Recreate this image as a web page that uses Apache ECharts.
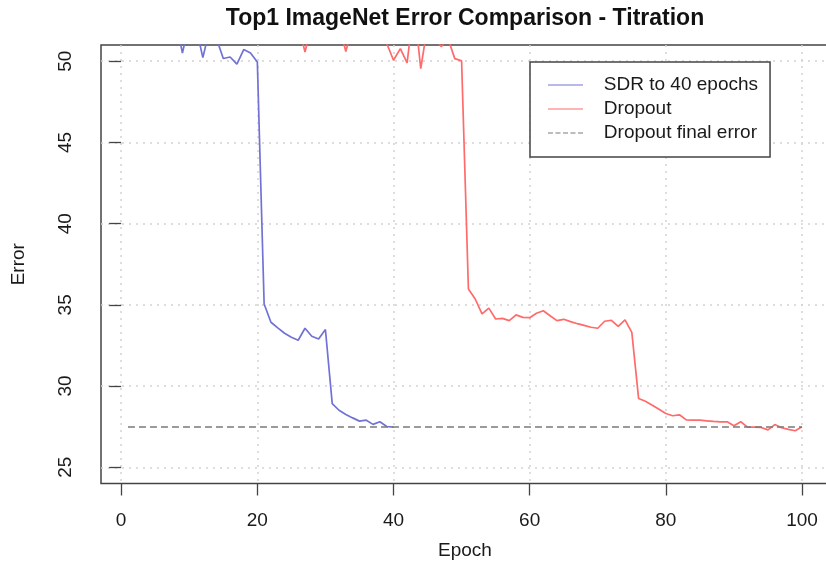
<!DOCTYPE html>
<html>
<head>
<meta charset="utf-8">
<script src="https://cdn.jsdelivr.net/npm/echarts@6/dist/echarts.min.js"></script>
<style>
html,body{margin:0;padding:0;background:#fff;}
#chart{width:826px;height:562px;}
</style>
</head>
<body>
<div id="chart"></div>
<script>
// ---- data ----
const sdrEpochs = [1,2,3,4,5,6,7,8,9,10,11,12,13,14,15,16,17,18,19,20,21,22,23,24,25,26,27,28,29,30,31,32,33,34,35,36,37,38,39,40];
const sdrError = [75,64,59,56,54.5,53.6,53.0,52.6,50.5,52.4,52.1,50.22,52.0,51.4,50.17,50.26,49.82,50.72,50.51,49.96,
                  35.05,33.93,33.58,33.25,33.0,32.82,33.56,33.07,32.9,33.48,28.92,28.51,28.25,28.04,27.84,27.9,27.64,27.8,27.51,27.47];
const dropoutEpochs = [1,2,3,4,5,6,7,8,9,10,11,12,13,14,15,16,17,18,19,20,21,22,23,24,25,26,27,28,29,30,31,32,33,34,35,36,37,38,39,40,
                       41,42,43,44,45,46,47,48,49,50,51,52,53,54,55,56,57,58,59,60,61,62,63,64,65,66,67,68,69,70,
                       71,72,73,74,75,76,77,78,79,80,81,82,83,84,85,86,87,88,89,90,91,92,93,94,95,96,97,98,99,100];
const dropoutError = [80,71,66,62,59.5,57.8,56.6,55.7,55,54.4,54,53.6,53.3,53,52.8,52.6,52.5,52.4,52.3,52.2,52.3,52.1,52.2,52.0,52.1,52.3,
                      50.57,52.3,52.1,52.0,51.9,52.2,50.6,52.2,51.9,51.8,51.7,51.5,51.1,50.06,
                      50.78,49.9,53.5,49.55,52.2,51.5,50.9,51.4,50.16,50.02,
                      35.97,35.36,34.44,34.8,34.13,34.17,34.03,34.38,34.23,34.21,34.48,34.64,34.33,34.03,34.11,33.97,33.84,33.74,33.62,33.56,
                      33.99,34.05,33.68,34.07,33.31,29.23,29.06,28.82,28.57,28.31,28.17,28.23,27.92,27.9,27.9,27.86,27.82,27.8,27.8,27.55,
                      27.8,27.47,27.47,27.45,27.3,27.63,27.43,27.33,27.25,27.49];
const finalErrorEpochs = [1, 100];
const finalError = 27.48;
const xTicks = [0, 20, 40, 60, 80, 100];
const yTicks = [25, 30, 35, 40, 45, 50];
const seriesNames = ['SDR to 40 epochs', 'Dropout', 'Dropout final error'];
const titleText = 'Top1 ImageNet Error Comparison - Titration';
const xName = 'Epoch';
const yName = 'Error';

// ---- build ----
const FONT = '"Liberation Sans", Arial, Helvetica, sans-serif';
const BLUE = '#7272d6', RED = '#ff6a6a', GRAY = '#7a7a7a';
const pairs = (xs, ys) => xs.map((x, i) => [x, ys[i]]);
const gridLine = {show: true, lineStyle: {color: '#d2d2d2', width: 1.5, type: [2, 5]}};

const chart = echarts.init(document.getElementById('chart'), null, {renderer: 'canvas'});
chart.setOption({
  animation: false,
  backgroundColor: '#ffffff',
  title: {
    text: titleText, left: 465, top: 7.5, padding: 0, textAlign: 'center',
    textStyle: {fontFamily: FONT, fontSize: 23, fontWeight: 'bold', color: '#111'}
  },
  legend: {
    orient: 'vertical', left: 530, top: 62, padding: [11, 12, 12, 18],
    borderColor: '#444', borderWidth: 1.5, backgroundColor: '#fff',
    itemGap: 0, itemWidth: 35, itemHeight: 1.6,
    textStyle: {fontFamily: FONT, fontSize: 19, color: '#1a1a1a', lineHeight: 24},
    formatter: n => '   ' + n,
    itemStyle: {borderWidth: 0},
    data: [
      {name: seriesNames[0], icon: 'path://M0,0h35v1h-35z', itemStyle: {color: BLUE}},
      {name: seriesNames[1], icon: 'path://M0,0h35v1h-35z', itemStyle: {color: RED}},
      {name: seriesNames[2], icon: 'path://M0,0h5v1h-5z M7.5,0h5v1h-5z M15,0h5v1h-5z M22.5,0h5v1h-5z M30,0h5v1h-5z', itemStyle: {color: GRAY}}
    ]
  },
  grid: {left: 101, right: -3, top: 45, bottom: 78.5, show: true, borderColor: '#444', borderWidth: 1.5,
         containLabel: false, outerBoundsMode: 'none'},
  xAxis: {
    type: 'value', min: -2.96, max: 103.96,
    axisLine: {show: false},
    axisTick: {show: true, length: 12, lineStyle: {color: '#444', width: 1.3}, customValues: xTicks},
    axisLabel: {customValues: xTicks, fontFamily: FONT, fontSize: 19, color: '#1a1a1a', margin: 28},
    splitLine: gridLine,
    name: xName, nameLocation: 'middle', nameGap: 58,
    nameTextStyle: {fontFamily: FONT, fontSize: 19, color: '#1a1a1a'}
  },
  yAxis: {
    type: 'value', min: 24, max: 51,
    axisLine: {show: false},
    axisTick: {show: true, length: 12, lineStyle: {color: '#444', width: 1.3}, customValues: yTicks},
    axisLabel: {customValues: yTicks, rotate: 90, fontFamily: FONT, fontSize: 19, color: '#1a1a1a', margin: 26},
    splitLine: gridLine,
    name: yName, nameLocation: 'middle', nameGap: 73,
    nameTextStyle: {fontFamily: FONT, fontSize: 19, color: '#1a1a1a'}
  },
  series: [
    {name: seriesNames[0], type: 'line', data: pairs(sdrEpochs, sdrError), showSymbol: false, symbol: 'none', clip: true,
     color: BLUE, lineStyle: {color: BLUE, width: 1.7}, itemStyle: {color: BLUE}},
    {name: seriesNames[1], type: 'line', data: pairs(dropoutEpochs, dropoutError), showSymbol: false, symbol: 'none', clip: true,
     color: RED, lineStyle: {color: RED, width: 1.7}, itemStyle: {color: RED}},
    {name: seriesNames[2], type: 'line', data: finalErrorEpochs.map(x => [x, finalError]), showSymbol: false, symbol: 'none', clip: true,
     color: GRAY, lineStyle: {color: GRAY, width: 1.6, type: [7, 4]}, itemStyle: {color: GRAY}}
  ]
});
</script>
</body>
</html>
